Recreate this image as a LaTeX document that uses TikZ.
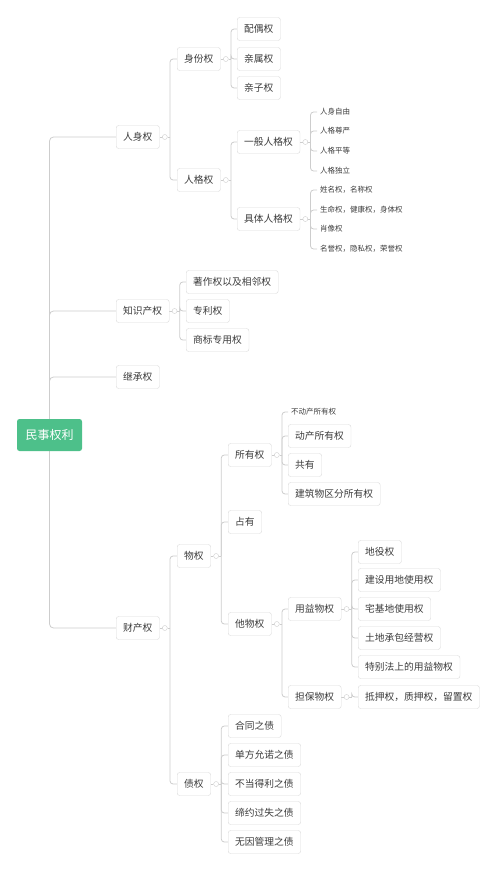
\documentclass[tikz,border=0pt]{standalone}
\usepackage{fontspec}
\newfontfamily\cjk{Noto Sans CJK SC}
\usetikzlibrary{positioning,backgrounds}
\definecolor{rootgreen}{RGB}{77,192,138}
\definecolor{boxline}{RGB}{218,218,218}
\definecolor{linkgray}{RGB}{205,205,205}
\definecolor{textgray}{RGB}{60,60,60}
\tikzset{
  box/.style={draw=boxline, fill=white, rounded corners=2.5pt, anchor=west,
    minimum height=23pt, inner xsep=7pt, text=textgray,
    font=\cjk\fontsize{9.75}{11}\selectfont},
  leaf/.style={anchor=west, inner xsep=3pt, inner ysep=1pt, text=textgray,
    font=\cjk\fontsize{7.5}{9}\selectfont},
  rootbox/.style={fill=rootgreen, rounded corners=2.5pt, minimum width=65pt,
    minimum height=32pt, text=white, font=\cjk\fontsize{12}{14}\selectfont},
  dot/.style={circle, draw=linkgray, fill=white, minimum size=5pt, inner sep=0pt},
  link/.style={draw=linkgray, line width=0.8pt}
}
\begin{document}
\begin{tikzpicture}[x=1pt,y=-1pt]
\useasboundingbox (0,0) rectangle (500,875);

% root
\node[rootbox] (minshi) at (49.5,435) {民事权利};

% first level
\node[box] (renshen) at (116,137) {人身权};
\node[box] (zhishi) at (116,311) {知识产权};
\node[box] (jicheng) at (116,377) {继承权};
\node[box] (caichan) at (116,628) {财产权};

% 人身权
\node[box] (shenfen) at (177,59) {身份权};
\node[box] (renge) at (177,180) {人格权};
\node[box] (peiou) at (237,29) {配偶权};
\node[box] (qinshu) at (237,59) {亲属权};
\node[box] (qinzi) at (237,88) {亲子权};
\node[box] (yiban) at (237,142) {一般人格权};
\node[box] (juti) at (237,219) {具体人格权};
\node[leaf] (ziyou) at (317,112) {人身自由};
\node[leaf] (zunyan) at (317,131) {人格尊严};
\node[leaf] (pingdeng) at (317,151) {人格平等};
\node[leaf] (duli) at (317,171) {人格独立};
\node[leaf] (xingming) at (317,190) {姓名权，名称权};
\node[leaf] (shengming) at (317,210) {生命权，健康权，身体权};
\node[leaf] (xiaoxiang) at (317,229) {肖像权};
\node[leaf] (mingyu) at (317,249) {名誉权，隐私权，荣誉权};

% 知识产权
\node[box] (zhuzuo) at (186,282) {著作权以及相邻权};
\node[box] (zhuanli) at (186,311) {专利权};
\node[box] (shangbiao) at (186,340) {商标专用权};

% 财产权
\node[box] (wuquan) at (177,556) {物权};
\node[box] (zhaiquan) at (177,784) {债权};
\node[box] (suoyou) at (228,455) {所有权};
\node[box] (zhanyou) at (228,522) {占有};
\node[box] (tawu) at (228,624) {他物权};
\node[leaf] (budong) at (288,412) {不动产所有权};
\node[box] (dongchan) at (288,436) {动产所有权};
\node[box] (gongyou) at (288,465) {共有};
\node[box] (jianzhu) at (288,494) {建筑物区分所有权};
\node[box] (yongyi) at (288,609) {用益物权};
\node[box] (danbao) at (288,697) {担保物权};
\node[box] (diyi) at (358,552) {地役权};
\node[box] (jianshe) at (358,580) {建设用地使用权};
\node[box] (zhaiji) at (358,609) {宅基地使用权};
\node[box] (tudi) at (358,638) {土地承包经营权};
\node[box] (tebie) at (358,667) {特别法上的用益物权};
\node[box] (diya) at (358,697) {抵押权，质押权，留置权};
\node[box] (hetong) at (228,726) {合同之债};
\node[box] (danfang) at (228,755) {单方允诺之债};
\node[box] (budang) at (228,784) {不当得利之债};
\node[box] (diyue) at (228,813) {缔约过失之债};
\node[box] (wuyin) at (228,842) {无因管理之债};

% connectors
\begin{scope}[on background layer]
  \foreach \k in {renshen,zhishi,jicheng,caichan}
    \draw[link, rounded corners=4pt] (minshi.center) |- (\k.west);
\end{scope}
\foreach \p/\kids in {renshen/{shenfen,renge}, shenfen/{peiou,qinshu,qinzi},
    renge/{yiban,juti}, yiban/{ziyou,zunyan,pingdeng,duli},
    juti/{xingming,shengming,xiaoxiang,mingyu}, zhishi/{zhuzuo,zhuanli,shangbiao},
    caichan/{wuquan,zhaiquan}, wuquan/{suoyou,zhanyou,tawu},
    suoyou/{budong,dongchan,gongyou,jianzhu}, tawu/{yongyi,danbao},
    yongyi/{diyi,jianshe,zhaiji,tudi,tebie}, danbao/{diya},
    zhaiquan/{hetong,danfang,budang,diyue,wuyin}}{
  \node[dot, right=2.5pt of \p] (\p-d) {};
  \begin{scope}[on background layer]
    \draw[link] (\p.east) -- (\p-d.west);
    \draw[link] (\p-d.east) -- ++(2.5,0) coordinate (\p-b);
    \foreach \k in \kids
      \draw[link, rounded corners=3pt] (\p-b) |- (\k.west);
  \end{scope}
}
\end{tikzpicture}
\end{document}
